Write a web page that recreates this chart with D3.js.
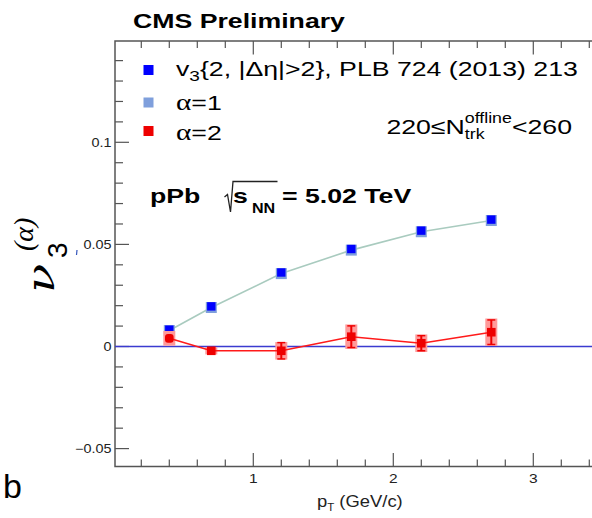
<!DOCTYPE html>
<html><head><meta charset="utf-8">
<script src="https://cdn.jsdelivr.net/npm/d3@7"></script>
<style>html,body{margin:0;padding:0;background:#fff;}svg{display:block;}</style>
</head><body>
<svg id="c" width="592" height="518"></svg>
<script>
// ---- data ----
const ptBins = [0.4, 0.7, 1.2, 1.7, 2.2, 2.7];
const v3Ref = [0.0081, 0.0195, 0.0361, 0.0476, 0.0566, 0.0620];
const v3Alpha1 = [0.0078, 0.0191, 0.0357, 0.0472, 0.0562, 0.0617];
const v3Alpha2 = [0.0040, -0.0021, -0.0021, 0.0048, 0.0016, 0.0070];
const alpha2Stat = [0.0015, 0.0006, 0.0040, 0.0053, 0.0037, 0.0060];
const alpha2Sys = [0.0036, 0.0018, 0.0043, 0.0060, 0.0043, 0.0067];
const xMajorTicks = [1, 2, 3];
const yMajorTicks = [-0.05, 0, 0.05, 0.1];
const yTickLabels = ["\u22120.05", "0", "0.05", "0.1"];
const legendLabels = ["ref", "\u03b1=1", "\u03b1=2"];

const svg = d3.select("#c");
const SX = 1.27;
const L = 115, T = 41, B = 466.5, R = 600;
const x = d3.scaleLinear().domain([0, 1]).range([113.3, 253.3]);
const y = d3.scaleLinear().domain([0, 0.05]).range([346.5, 244.4]);

function rich(parent, px, py, pieces, opts) {
  const g = parent.append("g");
  let cx = 0, prevStart = 0;
  pieces.forEach(p => {
    const start = p.stack ? prevStart : cx;
    const t = g.append("text").attr("x", start).attr("y", p.dy || 0)
      .attr("font-size", p.size || opts.size)
      .attr("font-weight", p.weight || opts.weight || "normal")
      .attr("font-family", p.family || opts.family || "Liberation Sans, Arial, sans-serif")
      .attr("font-style", p.style || "normal")
      .attr("fill", opts.fill || "#000").text(p.t);
    const w = t.node().getComputedTextLength();
    if (!p.stack) prevStart = start;
    cx = Math.max(cx, start + w);
  });
  const sx = opts.sx || 1;
  let tx = px;
  if (opts.anchor === "end") tx = px - cx * sx;
  if (opts.anchor === "middle") tx = px - cx * sx / 2;
  g.attr("transform", `translate(${tx},${py}) scale(${sx},1)`);
  return g;
}

// ---- frame & ticks ----
const axisCol = "#555";
svg.append("path").attr("d", `M${R},${T}H${L}V${B}H${R}`).attr("fill", "none")
  .attr("stroke", axisCol).attr("stroke-width", 1.5);

d3.range(1, 18).forEach(i => {
  const v = i * 0.2;
  const isMaj = i % 5 === 0;
  const len = isMaj ? 13.5 : 7;
  const xx = x(v);
  if (xx > 592) return;
  svg.append("line").attr("x1", xx).attr("x2", xx).attr("y1", B).attr("y2", B - len).attr("stroke", axisCol).attr("stroke-width", 1.2);
  svg.append("line").attr("x1", xx).attr("x2", xx).attr("y1", T).attr("y2", T + len).attr("stroke", axisCol).attr("stroke-width", 1.2);
});
d3.range(-5, 15).forEach(i => {
  const v = i * 0.01;
  const isMaj = i % 5 === 0;
  const yy = y(v);
  if (yy > B || yy < T) return;
  svg.append("line").attr("x1", L).attr("x2", L + (isMaj ? 14 : 8)).attr("y1", yy).attr("y2", yy).attr("stroke", axisCol).attr("stroke-width", 1.2);
});

// tick labels
yMajorTicks.forEach((v, i) => {
  rich(svg, 111.5, y(v) + 4.3, [{ t: yTickLabels[i] }], { size: 12, sx: 1.2, anchor: "end", fill: "#222" });
});
xMajorTicks.forEach(v => {
  rich(svg, x(v), 483, [{ t: String(v) }], { size: 13.5, sx: 1.15, anchor: "middle", fill: "#222" });
});

// zero line
svg.append("line").attr("x1", L).attr("x2", 592).attr("y1", y(0)).attr("y2", y(0))
  .attr("stroke", "#3b3bd0").attr("stroke-width", 1.5);

// ---- data marks ----
const line = d3.line().x((d, i) => x(ptBins[i])).y(d => y(d));
svg.append("path").attr("d", line(v3Alpha1)).attr("fill", "none").attr("stroke", "#a9cbbf").attr("stroke-width", 1.6);
v3Alpha1.forEach((v, i) => {
  svg.append("rect").attr("x", x(ptBins[i]) - 5.5).attr("y", y(v) - 5.5).attr("width", 11).attr("height", 11).attr("fill", "#7f9fdc");
});
v3Ref.forEach((v, i) => {
  svg.append("rect").attr("x", x(ptBins[i]) - 4.2).attr("y", y(v) - 4.5).attr("width", 8.4).attr("height", 8.4).attr("fill", "#0000ff");
});
v3Alpha2.forEach((v, i) => {
  svg.append("rect").attr("x", x(ptBins[i]) - 6).attr("y", y(v + alpha2Sys[i])).attr("width", 12)
    .attr("height", y(v - alpha2Sys[i]) - y(v + alpha2Sys[i])).attr("fill", "#ff9a9a");
});
svg.append("path").attr("d", line(v3Alpha2)).attr("fill", "none").attr("stroke", "#ff1a1a").attr("stroke-width", 1.6);
v3Alpha2.forEach((v, i) => {
  const xx = x(ptBins[i]);
  const y1 = y(v + alpha2Stat[i]), y2 = y(v - alpha2Stat[i]);
  svg.append("line").attr("x1", xx).attr("x2", xx).attr("y1", y1).attr("y2", y2).attr("stroke", "#ee0000").attr("stroke-width", 2);
  if (alpha2Stat[i] > 0.002) {
    [y1, y2].forEach(yy => svg.append("line").attr("x1", xx - 4).attr("x2", xx + 4).attr("y1", yy).attr("y2", yy).attr("stroke", "#ee0000").attr("stroke-width", 1.5));
  }
  svg.append("rect").attr("x", xx - 4.3).attr("y", y(v) - 4.3).attr("width", 8.6).attr("height", 8.6)
    .attr("rx", i === 0 ? 3 : 0).attr("fill", "#ee0000");
});

// ---- texts ----
rich(svg, 133, 28, [{ t: "CMS Preliminary" }], { size: 21, weight: "bold", sx: SX });

const legY = [70, 102.5, 131];
const legCol = ["#0000ff", "#7f9fdc", "#ee0000"];
legY.forEach((yy, i) => {
  svg.append("rect").attr("x", 143.5).attr("y", yy - 5).attr("width", 10).attr("height", 10).attr("fill", legCol[i]);
});
rich(svg, 176, 76, [
  { t: "v" }, { t: "3", size: 15, dy: 5 },
  { t: "{2, |\u0394\u03b7|>2}, PLB 724 (2013) 213" }
], { size: 21, sx: SX });
rich(svg, 176, 109.5, [{ t: "\u03b1", family: "Liberation Serif, serif", size: 23 }, { t: legendLabels[1].slice(1) }], { size: 21, sx: SX });
rich(svg, 176, 140, [{ t: "\u03b1", family: "Liberation Serif, serif", size: 23 }, { t: legendLabels[2].slice(1) }], { size: 21, sx: SX });

rich(svg, 572, 133.5, [
  { t: "220\u2264N" }, { t: "trk", size: 14, dy: 5 }, { t: "offline", size: 14, dy: -11, stack: true }, { t: "<260" }
], { size: 21, sx: SX, anchor: "end" });

// pPb sqrt(sNN)
rich(svg, 150, 203, [{ t: "pPb" }], { size: 21, weight: "bold", sx: SX });
svg.append("path").attr("d", "M224.5,197 L227.5,194.5 L230.5,212 L233,181.5 L277.5,181.5")
  .attr("fill", "none").attr("stroke", "#222").attr("stroke-width", 1.3);
rich(svg, 233, 203, [{ t: "s" }], { size: 21, weight: "bold", sx: SX });
rich(svg, 252, 213, [{ t: "NN" }], { size: 14, weight: "bold", sx: 1.15 });
rich(svg, 282, 203, [{ t: "= 5.02 TeV" }], { size: 21, weight: "bold", sx: SX });

// axis titles
rich(svg, 317, 506.5, [{ t: "p" }, { t: "T", size: 10, dy: 4 }, { t: "\u00a0(GeV/c)" }], { size: 16, sx: 1.15, fill: "#222" });

// y title (rotated)
svg.append("text").attr("transform", "translate(53.5,293) rotate(-90) scale(1.2,1)")
  .attr("font-family", "DejaVu Serif, serif").attr("font-style", "italic").attr("font-weight", "normal")
  .attr("font-size", 40).text("\u03bd");
svg.append("text").attr("transform", "translate(67,258) rotate(-90)")
  .attr("font-family", "Liberation Sans, Arial, sans-serif").attr("font-size", 28).text("3");
svg.append("text").attr("transform", "translate(33,251) rotate(-90)")
  .attr("font-family", "Liberation Serif, serif").attr("font-style", "italic").attr("font-size", 28).text("(\u03b1)");
svg.append("line").attr("x1", 77).attr("x2", 76.5).attr("y1", 250).attr("y2", 255).attr("stroke", "#3355bb").attr("stroke-width", 1.2);

svg.append("text").attr("x", 3).attr("y", 497.5).attr("font-family", "Liberation Sans, Arial, sans-serif").attr("font-size", 34).text("b");
</script>
</body></html>
